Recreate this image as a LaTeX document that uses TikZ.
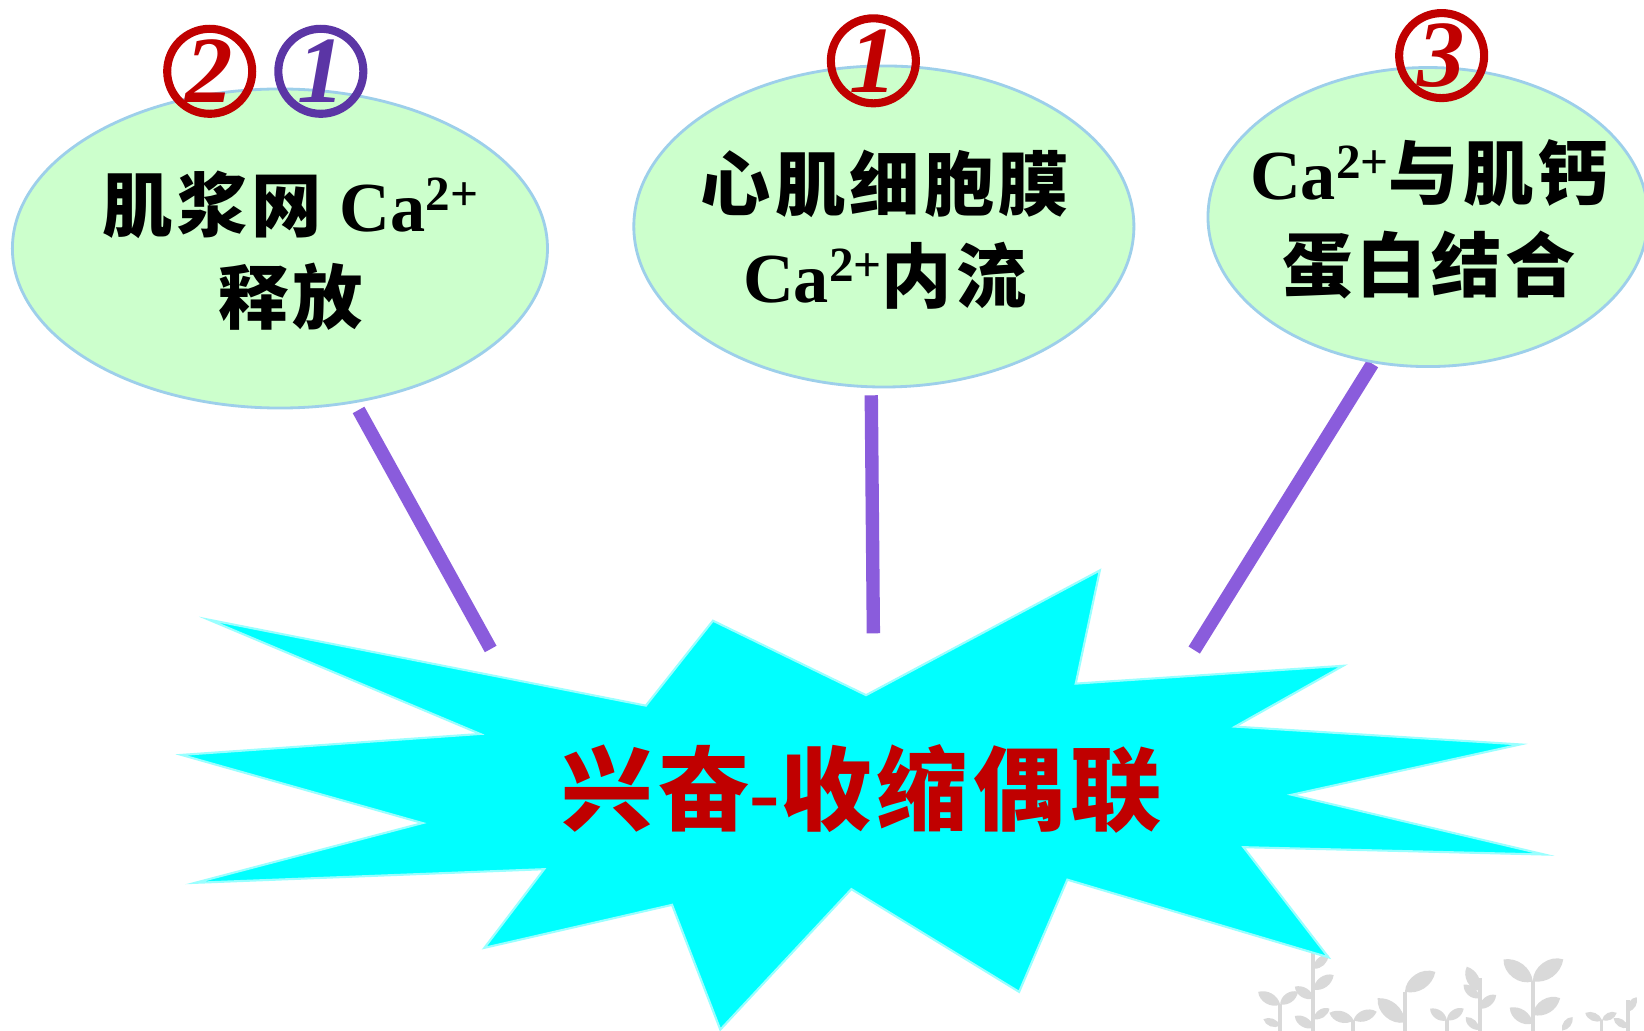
\documentclass[tikz,border=0pt]{standalone}
\usepackage{fontspec}
\setmainfont{Liberation Serif}
\newfontfamily\cjk{Noto Sans CJK SC}[LetterSpace=6]
\usetikzlibrary{shapes.geometric}
\definecolor{bubblefill}{HTML}{CCFFCC}
\definecolor{bubbleline}{HTML}{9DCFEA}
\definecolor{numred}{HTML}{C00000}
\definecolor{numpurple}{HTML}{5B35A5}
\definecolor{linkpurple}{HTML}{8A5CDC}
\definecolor{burst}{HTML}{00FFFF}
\definecolor{sproutgray}{HTML}{D9D9D9}
\newcommand{\ca}{Ca\raisebox{6pt}{\fontsize{14}{14}\selectfont 2+}}
\tikzset{
    bubble/.style={ellipse, fill=bubblefill, draw=bubbleline, line width=0.8pt, inner sep=0pt},
    bubbletext/.style={align=center, font=\bfseries\fontsize{20}{26}\selectfont},
    badge/.style={circle, draw=#1, text=#1, line width=2.3pt, minimum size=0.85cm, inner sep=0pt,
        font=\bfseries\itshape\fontsize{27}{27}\selectfont},
    link/.style={draw=linkpurple, line width=3.8pt},
    headline/.style={text=numred, font=\bfseries\fontsize{26}{30}\selectfont},
    sprout/.style={fill=sproutgray},
    stem/.style={draw=sproutgray, line width=1.1pt},
}

\begin{document}
\begin{tikzpicture}[x=0.010485cm, y=-0.010485cm]
\fill[white] (0,0) rectangle (1568,983);
\useasboundingbox (0,0) rectangle (1568,983);

% sprouts in the corner
\foreach \x/\y in {1252.5/909, 1220.7/958, 1290.7/973, 1340/946, 1379.7/973, 1411.5/933, 1461.7/936, 1527.5/973, 1553/954} {
\draw[stem] (\x,\y)--(\x,983);
}
\foreach \bx/\by/\tx/\ty in {1253/924/1267/911, 1253/944/1272/930, 1253/952/1235/941, 1253/972/1268/962, 1253/980/1235/969,
    1221/958/1200/946, 1221/958/1238/946, 1221/978/1205/972, 1291/973/1268/966, 1291/973/1313/965,
    1340/946/1369/927, 1340/975/1314/952, 1380/973/1364/962, 1380/973/1396/962,
    1411/945/1399/922, 1411/962/1427/949, 1411/952/1396/939, 1411/982/1398/970,
    1462/936/1434/915, 1462/936/1491/915, 1462/968/1488/952, 1462/976/1440/961,
    1490/983/1500/970, 1528/973/1512/966, 1528/973/1542/966, 1553/965/1561/951, 1553/980/1539/971} {
\fill[sprout] (\bx,\by) to[bend left=55] (\tx,\ty) to[bend left=45] (\bx,\by);
}

% the burst
\filldraw[fill=burst, draw=burst!40!white, line width=0.6pt]
  (199,591) -- (616,673) -- (680,592) -- (826,663) -- (1049,544) -- (1026,652)
  -- (1281,635) -- (1178,693) -- (1450,710) -- (1232,758) -- (1473,815) -- (1186,808)
  -- (1267,913) -- (1018,839) -- (972,946) -- (812,848) -- (687,982) -- (641,863)
  -- (462,904) -- (519,829) -- (186,842) -- (403,785) -- (173,720) -- (458,700) -- cycle;
\node[headline] (ecc) at (822,752) {{\cjk 兴奋}-{\cjk 收缩偶联}};

% links
\coordinate (l1a) at (342,391);
\coordinate (l1b) at (468,619);
\coordinate (l2a) at (831,377);
\coordinate (l2b) at (833,604);
\coordinate (l3a) at (1309,347);
\coordinate (l3b) at (1139,620);
\draw[link] (l1a) -- (l1b);
\draw[link] (l2a) -- (l2b);
\draw[link] (l3a) -- (l3b);

% bubbles
\node[bubble, minimum width=5.35cm, minimum height=3.19cm] (sr) at (267,237) {};
\node[bubble, minimum width=5.0cm, minimum height=3.21cm] (influx) at (843,216) {};
\node[bubble, minimum width=4.4cm, minimum height=2.99cm] (bind) at (1362,207) {};
\node[bubbletext] (srtext) at (277,239) {{\cjk 肌浆网} \ca\\{\cjk 释放}};
\node[bubbletext] (influxtext) at (844,219) {{\cjk 心肌细胞膜}\\\ca{\cjk 内流}};
\node[bubbletext] (bindtext) at (1363,209) {\ca{\cjk 与肌钙}\\{\cjk 蛋白结合}};

% step numbers
\node[badge=numred] (n2) at (200,68) {2};
\node[badge=numpurple] (n1a) at (306,68) {1};
\node[badge=numred] (n1b) at (833,58) {1};
\node[badge=numred] (n3) at (1375,53) {3};
\end{tikzpicture}
\end{document}
